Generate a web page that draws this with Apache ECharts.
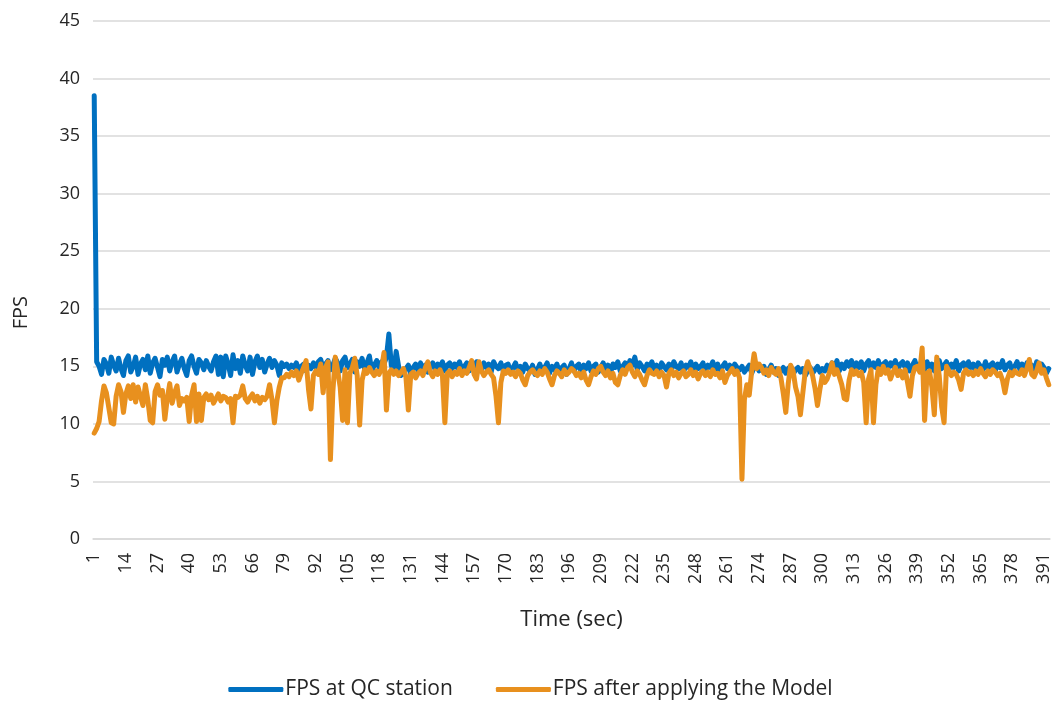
<!DOCTYPE html>
<html>
<head>
<meta charset="utf-8">
<script src="https://cdn.jsdelivr.net/npm/echarts@6/dist/echarts.min.js"></script>
<style>
html,body{margin:0;padding:0;background:#fff;}
#chart{width:1061px;height:702px;}
</style>
</head>
<body>
<div id="chart"></div>
<script>
// Series values (seconds 1..393)
const fpsQC = [
38.5,
15.4, 15.0, 14.3, 15.6, 15.2, 14.4, 15.8, 15.1, 14.6,
15.7, 14.8, 14.2, 15.5, 15.9, 14.5, 15.0, 15.8, 14.3, 15.2,
15.6, 14.7, 15.9, 14.4, 15.3, 15.7, 14.9, 14.1, 15.6, 15.1,
15.8, 14.6, 15.4, 15.9, 14.5, 15.2, 15.7, 14.8, 14.2, 15.5,
15.9, 15.0, 14.4, 15.6, 15.3, 14.7, 15.5, 15.0, 14.6, 15.4,
15.9, 14.3, 15.8, 14.1, 15.9, 15.2, 14.2, 16.0, 14.8, 15.5,
14.4, 15.9, 15.1, 14.6, 15.8, 14.3, 15.4, 15.9, 14.9, 15.6,
14.5, 15.2, 15.7, 14.9, 15.5, 15.1, 14.2, 15.3, 15.0, 15.2,
14.8, 15.1, 14.9, 15.3, 14.7, 15.0, 15.2, 14.6, 15.1, 14.8,
15.3, 14.9, 15.4, 15.6, 14.8, 15.2, 15.5, 14.7, 15.1, 15.7,
15.3, 14.6, 15.5, 15.8, 14.9, 15.2, 15.6, 14.5, 15.4, 15.0,
15.7, 14.8, 15.3, 15.9, 14.6, 15.1, 15.5, 14.9, 15.4, 15.2,
15.8, 17.8, 15.1, 14.5, 16.3, 15.0, 14.2, 14.4, 14.8, 15.1,
14.3, 14.9, 15.2, 14.6, 15.3, 14.8, 15.1, 14.5, 15.0, 15.3,
14.7, 15.2, 14.9, 15.4, 14.6, 15.1, 15.3, 14.8, 15.2, 14.9,
15.4, 14.7, 15.0, 15.3, 14.6, 15.2, 14.8, 15.4, 15.1, 14.7,
15.3, 14.9, 15.2, 14.5, 15.4, 15.0, 14.8, 15.3, 14.6, 15.1,
15.2, 14.4, 14.9, 15.3, 14.7, 15.0, 14.5, 15.2, 14.8, 14.6,
15.1, 14.3, 14.7, 15.2, 14.6, 14.9, 15.3, 14.4, 15.0, 14.7,
15.2, 14.5, 14.9, 15.1, 14.3, 14.8, 15.3, 14.6, 15.0, 15.2,
14.4, 15.1, 14.8, 15.3, 14.6, 15.0, 15.2, 14.5, 14.9, 15.3,
14.7, 15.1, 14.4, 15.2, 14.9, 15.4, 14.6, 15.0, 15.3, 14.8,
15.5, 15.1, 15.8, 14.7, 15.3, 15.0, 14.6, 15.2, 14.9, 15.4,
14.8, 15.1, 14.5, 15.3, 15.0, 14.7, 15.2, 14.6, 15.4, 15.0,
14.8, 15.3, 14.5, 15.1, 14.9, 15.4, 14.7, 15.2, 14.8, 15.0,
15.3, 14.6, 15.1, 14.9, 15.4, 14.7, 15.2, 14.5, 15.0, 15.3,
14.8, 15.1, 14.6, 15.2, 14.9, 14.7, 15.0, 14.5, 14.8, 15.1,
14.4, 14.9, 15.2, 14.6, 14.8, 15.0, 14.3, 14.7, 15.1, 14.5,
14.8, 14.2, 14.6, 14.9, 14.4, 14.8, 15.0, 14.3, 14.7, 14.9,
14.5, 14.8, 14.2, 14.6, 14.9, 14.4, 14.7, 15.0, 14.5, 14.8,
14.6, 15.1, 14.7, 15.3, 14.9, 15.5, 14.6, 15.2, 14.8, 15.4,
15.0, 15.5, 14.7, 15.3, 14.9, 15.4, 14.6, 15.2, 15.5, 14.8,
15.3, 14.9, 15.5, 14.7, 15.2, 15.4, 14.8, 15.3, 15.0, 15.5,
14.7, 15.2, 15.4, 14.9, 15.3, 14.6, 15.1, 15.5, 14.8, 15.2,
15.0, 14.7, 15.4, 14.9, 15.2, 14.6, 15.3, 15.5, 14.8, 15.1,
15.4, 14.7, 15.2, 14.9, 15.5, 14.6, 15.1, 15.3, 14.8, 15.4,
14.9, 15.2, 14.5, 15.3, 15.0, 14.7, 15.4, 14.8, 15.1, 15.3,
14.6, 15.2, 14.9, 15.5, 14.7, 15.1, 15.3, 14.5, 15.0, 15.4,
14.8, 15.2, 14.6, 15.3, 14.9, 15.1, 14.5, 15.4, 14.7, 15.2,
14.9, 14.4, 14.8
];
const fpsModel = [
9.2, 9.6, 10.2, 12.0, 13.3, 12.7, 11.4, 10.1, 10.0, 12.4,
13.4, 12.8, 11.0, 12.6, 13.3, 12.2, 13.4, 11.9, 13.2, 12.4,
11.6, 13.4, 12.1, 10.3, 10.1, 12.8, 13.4, 12.5, 12.9, 10.4,
12.2, 13.5, 11.8, 12.7, 13.3, 11.6, 12.2, 12.0, 12.3, 10.2,
12.5, 13.4, 10.2, 12.6, 10.3, 12.3, 12.6, 12.1, 12.5, 11.8,
12.2, 12.6, 12.0, 12.4, 12.3, 11.9, 12.2, 10.1, 12.4, 12.3,
12.5, 13.3, 12.2, 11.9, 12.3, 12.6, 12.0, 12.4, 11.8, 12.3,
12.1, 12.4, 13.4, 12.1, 10.1, 12.0, 13.2, 14.0, 14.0, 14.3,
14.1, 14.5, 14.2, 14.6, 13.8, 14.4, 14.9, 15.5, 13.0, 11.3,
14.2, 14.6, 14.3, 15.2, 12.7, 14.9, 15.4, 6.9, 12.8, 15.8,
14.6, 13.2, 10.3, 14.7, 10.1, 14.4, 14.9, 15.7, 14.2, 9.9,
13.8, 14.7, 14.4, 14.9, 14.5, 14.2, 14.6, 14.3, 14.8, 16.2,
11.2, 14.4, 14.7, 14.3, 14.6, 14.2, 14.5, 14.8, 14.1, 11.2,
14.3, 14.5, 14.0, 14.4, 14.6, 14.2, 14.9, 15.4, 14.5, 14.1,
14.6, 14.3, 14.7, 14.2, 10.1, 14.4, 14.6, 14.1, 14.5, 14.3,
14.8, 14.2, 14.6, 14.4, 14.9, 15.5, 14.3, 13.9, 15.4, 14.6,
14.2, 14.5, 14.7, 14.3, 14.0, 12.4, 10.1, 13.6, 14.6, 14.4,
14.7, 14.3, 14.5, 14.1, 14.6, 14.4, 13.8, 13.4, 14.2, 14.5,
14.7, 14.4, 14.2, 14.6, 14.3, 14.8, 14.5, 13.9, 13.4, 14.2,
14.6, 14.4, 14.1, 14.7, 14.3, 14.5, 14.8, 14.6, 14.2, 14.4,
14.0, 14.5, 13.8, 13.4, 14.1, 14.6, 14.3, 14.8, 15.0, 14.5,
14.2, 14.6, 14.0, 14.4, 13.6, 13.4, 14.2, 14.7, 14.3, 14.9,
15.1, 14.5, 14.1, 14.6, 14.3, 13.8, 13.4, 14.2, 14.7, 14.4,
14.3, 14.6, 14.1, 14.5, 14.2, 13.2, 14.4, 14.7, 14.2, 14.5,
14.0, 14.4, 14.6, 14.1, 14.3, 14.7, 14.2, 14.5, 13.9, 14.4,
14.6, 14.2, 14.5, 14.1, 14.7, 14.3, 14.4, 14.0, 14.6, 13.6,
14.2, 14.5, 14.8, 14.3, 14.6, 14.0, 5.2, 12.1, 13.4, 12.5,
14.6, 16.1, 14.8, 15.2, 14.9, 14.4, 14.7, 14.2, 14.9, 14.5,
14.3, 14.8, 14.0, 12.6, 11.0, 13.5, 15.1, 14.6, 13.2, 12.4,
10.8, 12.7, 14.6, 15.4, 14.8, 14.2, 13.1, 11.6, 13.0, 14.2,
13.6, 13.9, 14.5, 15.3, 14.3, 14.7, 14.1, 13.4, 12.2, 12.1,
13.8, 14.7, 14.3, 14.6, 14.2, 14.5, 13.6, 10.1, 13.9, 14.7,
10.1, 13.4, 14.8, 14.3, 15.0, 14.4, 14.7, 13.9, 14.5, 14.9,
14.2, 14.6, 14.0, 14.7, 13.6, 12.4, 14.2, 14.9, 15.0, 14.5,
16.6, 10.3, 14.4, 14.6, 13.2, 10.8, 15.8, 14.2, 11.5, 10.1,
15.0, 14.6, 14.2, 14.5, 14.3, 13.8, 13.0, 14.4, 14.7, 14.3,
14.5, 14.2, 14.6, 14.3, 14.8, 14.4, 14.1, 14.6, 14.3, 14.7,
14.5, 14.2, 14.4, 13.8, 12.7, 13.9, 14.5, 14.2, 14.6, 14.4,
14.3, 14.7, 14.2, 14.8, 15.6, 14.3, 14.1, 14.6, 15.3, 14.4,
14.7, 14.0, 13.4
];
// Category labels: seconds 1..N
const seconds = fpsQC.map((_, i) => String(i + 1));
const seriesNames = ['FPS at QC station', 'FPS after applying the Model'];
const yTicks = { min: 0, max: 45, interval: 5 };

const FONT = 'Open Sans';
const chart = echarts.init(document.getElementById('chart'), null, { renderer: 'canvas' });
chart.setOption({
  animation: false,
  backgroundColor: '#ffffff',
  textStyle: { fontFamily: FONT },
  grid: { left: 93, right: 11, top: 21, bottom: 163, containLabel: false },
  legend: {
    bottom: -3,
    left: 'center',
    icon: 'roundRect',
    itemWidth: 55,
    itemHeight: 5,
    itemGap: 43,
    textStyle: { fontFamily: FONT, fontSize: 21, color: '#262626', padding: [0, 0, 0, -3] },
    data: seriesNames
  },
  xAxis: {
    type: 'category',
    data: seconds,
    boundaryGap: true,
    name: 'Time (sec)',
    nameLocation: 'middle',
    nameGap: 70,
    nameTextStyle: { fontFamily: FONT, fontSize: 22, color: '#262626' },
    axisLine: { lineStyle: { color: '#d9d9d9', width: 1.5 } },
    axisTick: { show: false },
    axisLabel: { interval: 12, rotate: 90, margin: 14, fontFamily: FONT, fontSize: 18, color: '#262626' },
    splitLine: { show: false }
  },
  yAxis: {
    type: 'value',
    min: yTicks.min,
    max: yTicks.max,
    interval: yTicks.interval,
    axisLine: { show: false },
    axisTick: { show: false },
    axisLabel: { margin: 13, fontFamily: FONT, fontSize: 18, color: '#262626' },
    splitLine: { lineStyle: { color: '#d9d9d9', width: 1.5 } }
  },
  graphic: [{
    type: 'text',
    left: 11,
    top: 296,
    rotation: Math.PI / 2,
    style: { text: 'FPS', font: '20px "Open Sans"', fill: '#262626' }
  }],
  series: [
    {
      name: seriesNames[0], type: 'line', data: fpsQC,
      symbol: 'none', smooth: false,
      lineStyle: { color: '#0070C0', width: 5, join: 'round', cap: 'round' },
      itemStyle: { color: '#0070C0' }
    },
    {
      name: seriesNames[1], type: 'line', data: fpsModel,
      symbol: 'none', smooth: false,
      lineStyle: { color: '#E8901E', width: 5, join: 'round', cap: 'round' },
      itemStyle: { color: '#E8901E' }
    }
  ]
});
</script>
</body>
</html>
